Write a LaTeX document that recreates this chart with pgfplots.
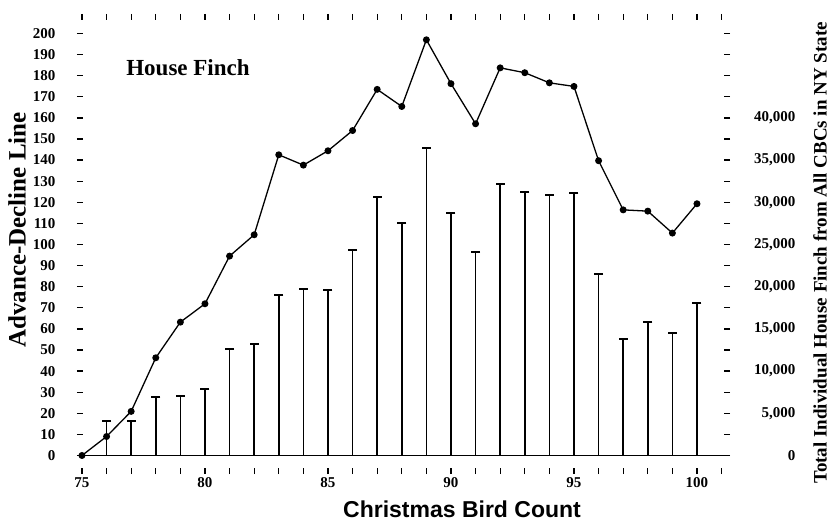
\documentclass[border=0pt]{standalone}
\usepackage{fontspec}
\setmainfont{Liberation Serif}
\setsansfont{Liberation Sans}
\usepackage{pgfplots}
\pgfplotsset{compat=1.18}
\begin{document}
\begin{tikzpicture}
\pgfplotsset{
  common/.style={
    scale only axis, width=647pt, height=454pt,
    xmin=74.92, xmax=101.22,
    separate axis lines, axis line style={draw=none},
    clip=false,
    /pgf/number format/assume math mode=true,
    tick label style={font=\fontsize{15}{15}\selectfont\bfseries},
    major tick length=6pt, tick align=center,
    every tick/.style={black, line width=1.3pt},
  }
}
\begin{axis}[common,
  ymin=-7.35, ymax=207.8,
  ytick={0,10,...,200}, ytick pos=left,
  yticklabel style={xshift=-18pt},
  xtick={75,80,...,100},
  extra x ticks={76,77,78,79,81,82,83,84,86,87,88,89,91,92,93,94,96,97,98,99,101},
  extra x tick labels={},
  xtick pos=both, xticklabel pos=lower,
]
\draw[line width=1.5pt] (axis cs:74.95,0) -- (axis cs:101.3,0);
\addplot[black, line width=1.3pt, mark=*, mark size=2.8pt] coordinates {
(75,0) (76,9) (77,20.9) (78,46.3) (79,63.2) (80,71.9) (81,94.5) (82,104.6)
(83,142.5) (84,137.6) (85,144.4) (86,154) (87,173.5) (88,165.4) (89,197)
(90,176.2) (91,157.2) (92,183.7) (93,181.4) (94,176.6) (95,174.9) (96,139.7)
(97,116.4) (98,115.8) (99,105.4) (100,119.3)};
\end{axis}
\begin{axis}[common,
  ymin=-1837.5, ymax=51950,
  scaled y ticks=false,
  xtick=\empty,
  ytick={0,5000,...,40000}, ytick pos=right, yticklabel pos=right,
  yticklabels={0,{5,000},{10,000},{15,000},{20,000},{25,000},{30,000},{35,000},{40,000}},
  extra y ticks={2500,7500,12500,17500,22500,27500,32500,37500,42500,45000,47500,50000},
  extra y tick labels={},
  yticklabel style={anchor=east, xshift=69pt},
]
\addplot[ycomb, black, line width=1.7pt, mark=-, mark size=4.5pt, mark options={line width=2pt}] coordinates {
(76,4125) (77,4125) (78,6975) (79,7050) (80,7875) (81,12625) (82,13200)
(83,19025) (84,19725) (85,19600) (86,24350) (87,30675) (88,27500) (89,36400)
(90,28775) (91,24150) (92,32175) (93,31225) (94,30900) (95,31125) (96,21500)
(97,13800) (98,15775) (99,14475) (100,18075)};
\end{axis}
\node[font=\fontsize{23}{23}\selectfont\bfseries] at (108pt,403pt) {House Finch};
\node[font=\fontsize{25}{25}\selectfont\bfseries, rotate=90] at (-63pt,241pt) {Advance-Decline Line};
\node[font=\fontsize{19}{19}\selectfont\bfseries, rotate=90] at (740pt,218pt) {Total Individual House Finch from All CBCs in NY State};
\node[font=\sffamily\bfseries\fontsize{23}{23}\selectfont] at (382pt,-38pt) {Christmas Bird Count};
\pgfresetboundingbox
\path (-80pt,-52pt) rectangle (751pt,471pt);
\end{tikzpicture}
\end{document}
